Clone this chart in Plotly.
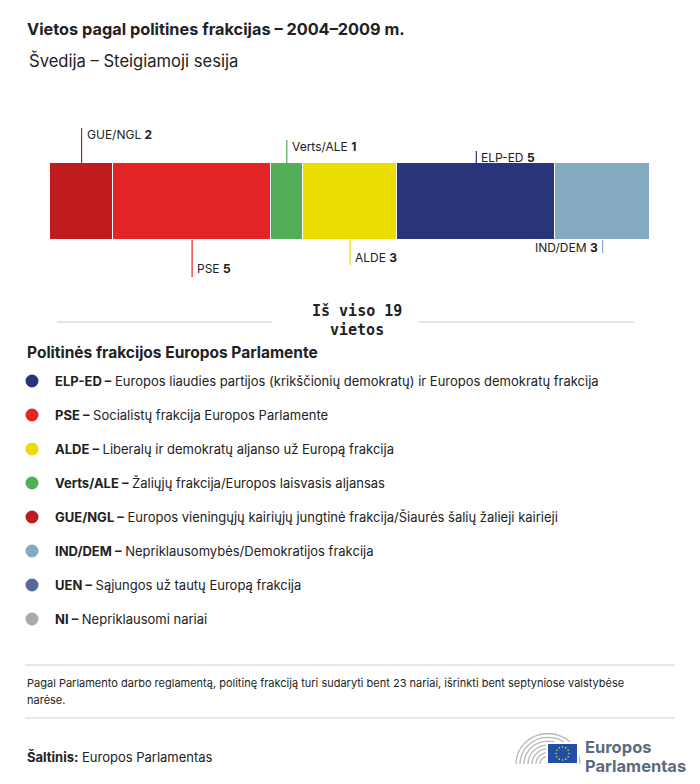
import math
import plotly.graph_objects as go

# ---- data ----
groups = ["GUE/NGL", "PSE", "Verts/ALE", "ALDE", "ELP-ED", "IND/DEM"]
seats = [2, 5, 1, 3, 5, 3]
bar_colors = ["#c01b1e", "#e42525", "#52ad57", "#ebdd00", "#28357a", "#85abc0"]

legend_abbr = ["ELP-ED", "PSE", "ALDE", "Verts/ALE", "GUE/NGL", "IND/DEM", "UEN", "NI"]
legend_desc = [
    "Europos liaudies partijos (krikščionių demokratų) ir Europos demokratų frakcija",
    "Socialistų frakcija Europos Parlamente",
    "Liberalų ir demokratų aljanso už Europą frakcija",
    "Žaliųjų frakcija/Europos laisvasis aljansas",
    "Europos vieningųjų kairiųjų jungtinė frakcija/Šiaurės šalių žalieji kairieji",
    "Nepriklausomybės/Demokratijos frakcija",
    "Sąjungos už tautų Europą frakcija",
    "Nepriklausomi nariai",
]
legend_colors = ["#28357a", "#e42525", "#ebdd00", "#52ad57", "#c01b1e", "#85abc0", "#56689a", "#aaaaaa"]

title = "Vietos pagal politines frakcijas – 2004–2009 m."
subtitle = "Švedija – Steigiamoji sesija"
total_words = ["Iš viso", "vietos"]
legend_title = "Politinės frakcijos Europos Parlamente"
note_lines = ["Pagal Parlamento darbo reglamentą, politinę frakciją turi sudaryti bent 23 nariai, išrinkti bent septyniose valstybėse",
              "narėse."]
source_label = "Šaltinis:"
source = "Europos Parlamentas"
logo_lines = ["Europos", "Parlamentas"]

# ---- layout constants (page pixels; the page body adds an 8px margin) ----
OFF = 8
W, H = 700 - OFF, 784 - OFF
BAR_L, BAR_R = 50, 650
BAR_TOP, BAR_BOT = 163, 240
label_style = {
    "GUE/NGL": ("up", 128, 134, "right"),
    "PSE": ("down", 277, 268, "right"),
    "Verts/ALE": ("up", 140, 146, "right"),
    "ALDE": ("down", 265, 257, "right"),
    "ELP-ED": ("up", 151, 157, "right"),
    "IND/DEM": ("down", 253, 247, "left"),
}

FONT = "Inter"
total = sum(seats)
span = BAR_R - BAR_L
pad_l = (BAR_L - OFF) / span * total
pad_r = (W + OFF - BAR_R) / span * total


def px(x):
    return (x - OFF) / W


def py(y):
    return y - OFF


fig = go.Figure()
for g, s, c in zip(groups, seats, bar_colors):
    fig.add_trace(go.Bar(
        x=[s], y=[py((BAR_TOP + BAR_BOT) / 2)], width=[BAR_BOT - BAR_TOP],
        orientation="h", marker=dict(color=c, line=dict(color="white", width=1.5)),
        name=g, hoverinfo="skip", showlegend=False,
    ))

shapes = []
annotations = []

cum = 0
for g, s, c in zip(groups, seats, bar_colors):
    mid = cum + s / 2
    cum += s
    side, ly, ty, tside = label_style[g]
    y0 = BAR_TOP if side == "up" else BAR_BOT
    shapes.append(dict(type="line", xref="x", yref="y", x0=mid, x1=mid, y0=py(y0), y1=py(ly),
                       line=dict(color=c, width=1.2)))
    annotations.append(dict(
        xref="x", yref="y", x=mid, y=py(ty),
        text=f"{g} <b>{s}</b>", showarrow=False,
        xanchor="left" if tside == "right" else "right",
        xshift=3 if tside == "right" else -3,
        font=dict(family=FONT, size=12, color="#222"),
    ))

# title & subtitle
annotations.append(dict(xref="paper", yref="y", x=px(25), y=py(29), text=f"<b>{title}</b>",
                        showarrow=False, xanchor="left", yanchor="middle",
                        font=dict(family=FONT, size=16.3, color="#222")))
annotations.append(dict(xref="paper", yref="y", x=px(27), y=py(60), text=subtitle,
                        showarrow=False, xanchor="left", yanchor="middle",
                        font=dict(family=FONT, size=16.6, color="#222")))

# total
for t, yy in zip([f"{total_words[0]} {total}", total_words[1]], [311, 330]):
    annotations.append(dict(xref="paper", yref="y", x=px(357), y=py(yy),
                            text=f"<b>{t}</b>", showarrow=False,
                            xanchor="center", yanchor="middle",
                            font=dict(family="DejaVu Sans Mono", size=15, color="#222")))
for x0, x1 in [(57, 272), (418, 634)]:
    shapes.append(dict(type="line", xref="paper", yref="y", x0=px(x0), x1=px(x1), y0=py(322), y1=py(322),
                       line=dict(color="#cccccc", width=1)))

# legend title
annotations.append(dict(xref="paper", yref="y", x=px(25), y=py(352), text=f"<b>{legend_title}</b>",
                        showarrow=False, xanchor="left", yanchor="middle",
                        font=dict(family=FONT, size=15.5, color="#222")))

for i, (a, d, c) in enumerate(zip(legend_abbr, legend_desc, legend_colors)):
    yc = 381 + 34 * i
    shapes.append(dict(type="circle", xref="paper", yref="y",
                       x0=px(25.5), x1=px(38.5), y0=py(yc - 6.5), y1=py(yc + 6.5),
                       fillcolor=c, line=dict(width=0)))
    annotations.append(dict(xref="paper", yref="y", x=px(53), y=py(yc),
                            text=f"<b>{a} –</b> {d}", showarrow=False,
                            xanchor="left", yanchor="middle",
                            font=dict(family=FONT, size=13, color="#222")))

# footer
for yy in [665, 718]:
    shapes.append(dict(type="line", xref="paper", yref="y", x0=px(25), x1=px(675), y0=py(yy), y1=py(yy),
                       line=dict(color="#d0d0d0", width=1)))
for t, yy in zip(note_lines, [683, 700]):
    annotations.append(dict(xref="paper", yref="y", x=px(25), y=py(yy), text=t,
                            showarrow=False, xanchor="left", yanchor="middle", align="left",
                            font=dict(family=FONT, size=11, color="#222")))
annotations.append(dict(xref="paper", yref="y", x=px(25), y=py(757),
                        text=f"<b>{source_label}</b> {source}", showarrow=False,
                        xanchor="left", yanchor="middle",
                        font=dict(family=FONT, size=13, color="#222")))

# logo: hemicycle arcs, flag and wordmark
cx, cy = 548, 764
for r in [8, 12, 16, 20, 24, 28, 32]:
    pts = []
    for k in range(0, 31):
        t = math.pi * k / 30
        pts.append((px(cx - r * math.cos(t)), py(cy - r * 0.95 * math.sin(t))))
    path = "M " + " L ".join(f"{x:.5f} {y:.2f}" for x, y in pts)
    shapes.append(dict(type="path", xref="paper", yref="y", path=path,
                       line=dict(color="#b8b8b8", width=1.3)))
shapes.append(dict(type="rect", xref="paper", yref="y", x0=px(547), x1=px(578), y0=py(743), y1=py(764),
                   fillcolor="#1f4fa8", line=dict(color="white", width=2)))
for k in range(12):
    t = 2 * math.pi * k / 12
    sx, sy = 562.5 + 6.5 * math.cos(t), 753.5 + 6.5 * math.sin(t)
    shapes.append(dict(type="circle", xref="paper", yref="y",
                       x0=px(sx - 0.8), x1=px(sx + 0.8), y0=py(sy - 0.8), y1=py(sy + 0.8),
                       fillcolor="#ffd700", line=dict(width=0)))
for t, yy in zip(logo_lines, [747, 766]):
    annotations.append(dict(xref="paper", yref="y", x=px(583), y=py(yy),
                            text=f"<b>{t}</b>", showarrow=False,
                            xanchor="left", yanchor="middle",
                            font=dict(family=FONT, size=16.5, color="#5b6b7d")))

fig.update_layout(
    width=W, height=H, barmode="stack", bargap=0,
    margin=dict(l=0, r=0, t=0, b=0),
    paper_bgcolor="white", plot_bgcolor="white",
    xaxis=dict(range=[-pad_l, total + pad_r], visible=False, fixedrange=True),
    yaxis=dict(range=[H, 0], visible=False, fixedrange=True),
    shapes=shapes, annotations=annotations, showlegend=False,
)
fig.write_html("out.html", config={"displayModeBar": False})
